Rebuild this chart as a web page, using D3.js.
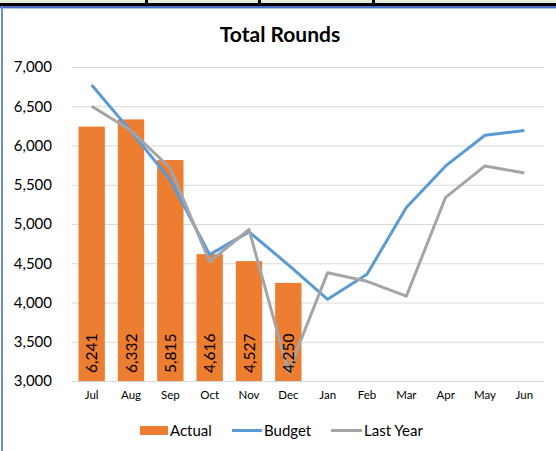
<!DOCTYPE html>
<html>
<head>
<meta charset="utf-8">
<script src="https://cdn.jsdelivr.net/npm/d3@7"></script>
<style>
  body { margin: 0; background: #fff; }
  svg { display: block; font-family: Lato, "Open Sans", sans-serif; }
</style>
</head>
<body>
<script>
// Data
const months = ['Jul', 'Aug', 'Sep', 'Oct', 'Nov', 'Dec', 'Jan', 'Feb', 'Mar', 'Apr', 'May', 'Jun'];
const actual = [6241, 6332, 5815, 4616, 4527, 4250];
const budget = [6770, 6180, 5560, 4610, 4900, 4480, 4040, 4360, 5210, 5740, 6130, 6190];
const lastYear = [6500, 6190, 5710, 4520, 4930, 3120, 4380, 4270, 4080, 5340, 5740, 5650];
const yTicks = [3000, 3500, 4000, 4500, 5000, 5500, 6000, 6500, 7000];

// Constants
const width = 556;
const height = 451;
const plot = { left: 72, right: 544, top: 67, bottom: 381 };
const colors = { actual: '#ED7D31', budget: '#5B9BD5', lastYear: '#A5A5A5' };

const svg = d3.select('body').append('svg')
    .attr('width', width)
    .attr('height', height);

// Spreadsheet strip above the chart
svg.append('rect').attr('x', 0).attr('y', 0).attr('width', width).attr('height', 3).attr('fill', '#e2efda');
svg.append('rect').attr('x', 0).attr('y', 3).attr('width', width).attr('height', 3).attr('fill', '#000');
[146, 259, 373].forEach(x => {
    svg.append('rect').attr('x', x - 1).attr('y', 0).attr('width', 3).attr('height', 4).attr('fill', '#000');
});

// Chart border
svg.append('rect').attr('x', 0).attr('y', 6).attr('width', width).attr('height', 2).attr('fill', '#4a6fc4');
svg.append('rect').attr('x', 0).attr('y', 8).attr('width', width).attr('height', 1).attr('fill', '#b4c6e7');
svg.append('rect').attr('x', 1).attr('y', 6).attr('width', 2).attr('height', height - 6).attr('fill', '#6d8fd0');

// Scales
const x = d3.scaleBand().domain(months).range([plot.left, plot.right]).paddingInner(0.33).paddingOuter(0.165);
const xc = d => x(d) + x.bandwidth() / 2;
const y = d3.scaleLinear().domain([3000, 7000]).range([plot.bottom, plot.top]);

// Title
svg.append('text')
    .attr('x', 280).attr('y', 42)
    .attr('text-anchor', 'middle')
    .attr('font-size', 21).attr('font-weight', 'bold')
    .attr('fill', '#000')
    .text('Total Rounds');

// Gridlines and y axis
const yAxis = svg.append('g')
    .attr('transform', `translate(${plot.left},0)`)
    .call(d3.axisLeft(y).tickValues(yTicks).tickFormat(d3.format(',')).tickSize(-(plot.right - plot.left)).tickPadding(20));
yAxis.select('.domain').remove();
yAxis.selectAll('line').attr('stroke', '#d9d9d9').attr('stroke-width', 1);
yAxis.selectAll('text').attr('font-size', 15).attr('fill', '#000').attr('font-family', 'Lato, sans-serif');

// Bars
svg.append('g').selectAll('rect')
    .data(actual)
    .join('rect')
    .attr('x', (d, i) => x(months[i]))
    .attr('y', d => y(d))
    .attr('width', x.bandwidth())
    .attr('height', d => plot.bottom - y(d))
    .attr('fill', colors.actual);

// X axis
const xAxis = svg.append('g')
    .attr('transform', `translate(0,${plot.bottom})`)
    .call(d3.axisBottom(x).tickSize(0).tickPadding(10));
xAxis.select('.domain').attr('stroke', '#d9d9d9');
xAxis.selectAll('text').attr('font-size', 11.5).attr('fill', '#000').attr('font-family', 'Lato, sans-serif');

// Lines
const line = d3.line().x((d, i) => xc(months[i])).y(d => y(d));
svg.append('path').datum(budget)
    .attr('d', line).attr('fill', 'none')
    .attr('stroke', colors.budget).attr('stroke-width', 3).attr('stroke-linejoin', 'round');
svg.append('path').datum(lastYear)
    .attr('d', line).attr('fill', 'none')
    .attr('stroke', colors.lastYear).attr('stroke-width', 3).attr('stroke-linejoin', 'round');

// Bar labels
svg.append('g').selectAll('text')
    .data(actual)
    .join('text')
    .attr('transform', (d, i) => `translate(${xc(months[i]) + 5.5},373) rotate(-90)`)
    .attr('font-size', 15.5)
    .attr('fill', '#000')
    .text(d => d3.format(',')(d));

// Legend
const legend = svg.append('g').attr('font-size', 15).attr('fill', '#000');
legend.append('rect').attr('x', 140).attr('y', 426).attr('width', 28).attr('height', 9).attr('fill', colors.actual);
legend.append('text').attr('x', 170).attr('y', 436).text('Actual');
legend.append('line').attr('x1', 232).attr('x2', 262).attr('y1', 430.5).attr('y2', 430.5)
    .attr('stroke', colors.budget).attr('stroke-width', 3);
legend.append('text').attr('x', 264).attr('y', 436).text('Budget');
legend.append('line').attr('x1', 331).attr('x2', 362).attr('y1', 430.5).attr('y2', 430.5)
    .attr('stroke', colors.lastYear).attr('stroke-width', 3);
legend.append('text').attr('x', 364).attr('y', 436).text('Last Year');
</script>
</body>
</html>
